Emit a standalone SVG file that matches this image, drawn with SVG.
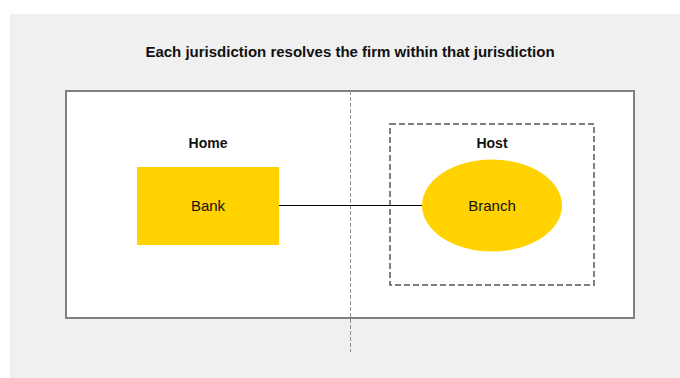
<svg xmlns="http://www.w3.org/2000/svg" width="680" height="378" viewBox="0 0 680 378">
<style>
text{font-family:"Liberation Sans",Arial,sans-serif;fill:#111;text-anchor:middle}
.t{font-weight:bold;font-size:15px}
.b{font-weight:bold;font-size:14px}
.n{font-size:15px}
.y{fill:#FFD200}
</style>
<rect x="0" y="0" width="680" height="378" fill="#fff"/>
<rect x="10" y="14" width="670" height="364" fill="#f0f0f0"/>
<text class="t" x="350" y="57">Each jurisdiction resolves the firm within that jurisdiction</text>
<g id="home-area">
<rect x="66" y="91" width="568" height="227" fill="#fff" stroke="#808080" stroke-width="2"/>
</g>
<line x1="350.5" y1="91" x2="350.5" y2="352" stroke="#909090" stroke-width="1" stroke-dasharray="4 2"/>
<g id="host-area">
<rect x="390" y="124" width="204" height="161" fill="none" stroke="#808080" stroke-width="2" stroke-dasharray="6 3"/>
<text class="b" x="492" y="148">Host</text>
</g>
<text class="b" x="208" y="148">Home</text>
<g id="connectors">
<line x1="279" y1="205.5" x2="422" y2="205.5" stroke="#000" stroke-width="1"/>
</g>
<g id="bank">
<rect class="y" x="137" y="167" width="142" height="78"/>
<text class="n" x="208" y="211">Bank</text>
</g>
<g id="branch">
<ellipse class="y" cx="492" cy="205.5" rx="70" ry="46"/>
<text class="n" x="492" y="211">Branch</text>
</g>
</svg>
